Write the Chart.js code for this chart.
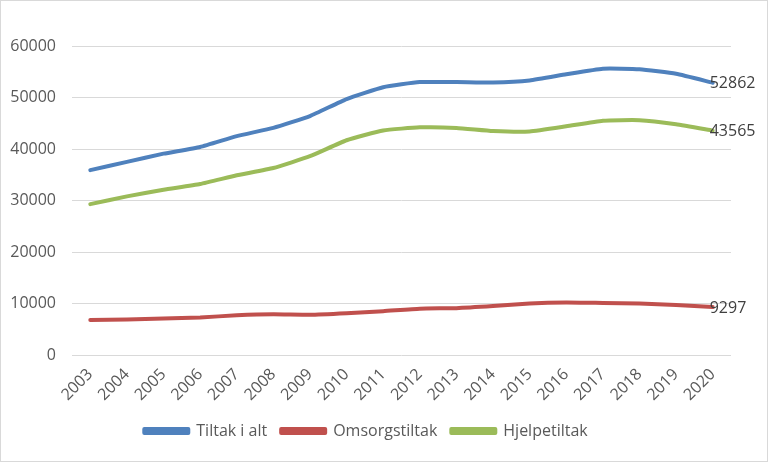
<!DOCTYPE html>
<html>
<head>
<meta charset="utf-8">
<script src="https://cdn.jsdelivr.net/npm/chart.js@4/dist/chart.umd.min.js"></script>
<style>
  html, body { margin: 0; padding: 0; background: #fff; }
  #wrap { width: 766px; height: 460px; border: 1px solid #d9d9d9; }
</style>
</head>
<body>
<div id="wrap"><canvas id="chart" width="766" height="460"></canvas></div>
<script>
const years = ['2003','2004','2005','2006','2007','2008','2009','2010','2011','2012','2013','2014','2015','2016','2017','2018','2019','2020'];
const tiltakIAlt = [35900, 37500, 39100, 40400, 42500, 44100, 46400, 49700, 52000, 53000, 53000, 52900, 53300, 54500, 55600, 55500, 54600, 52862];
const omsorgstiltak = [6800, 6900, 7100, 7300, 7700, 7900, 7800, 8100, 8500, 9000, 9100, 9500, 10000, 10200, 10100, 10000, 9700, 9297];
const hjelpetiltak = [29300, 30800, 32100, 33200, 34900, 36300, 38600, 41700, 43600, 44200, 44100, 43500, 43400, 44400, 45500, 45600, 44800, 43565];
const yTicks = [0, 10000, 20000, 30000, 40000, 50000, 60000];

const FONT = '"Open Sans", "Liberation Sans", sans-serif';
const TXT = '#595959';

// last value label at the end of each line
const endLabels = {
    id: 'endLabels',
    afterDatasetsDraw(chart) {
        const ctx = chart.ctx;
        ctx.save();
        ctx.font = '16px ' + FONT;
        ctx.fillStyle = '#404040';
        ctx.textAlign = 'left';
        ctx.textBaseline = 'middle';
        chart.data.datasets.forEach(function(ds, i) {
            const meta = chart.getDatasetMeta(i);
            const pt = meta.data[meta.data.length - 1];
            const val = ds.data[ds.data.length - 1];
            ctx.fillText(String(val), pt.x - 3, pt.y + 1);
        });
        ctx.restore();
    }
};

function mkSet(label, data, color) {
    return {
        label: label,
        data: data,
        borderColor: color,
        backgroundColor: color,
        borderWidth: 4,
        pointRadius: 0,
        tension: 0.15,
        borderCapStyle: 'round',
        borderJoinStyle: 'round'
    };
}

new Chart(document.getElementById('chart').getContext('2d'), {
    type: 'line',
    data: {
        labels: years,
        datasets: [
            mkSet('Tiltak i alt', tiltakIAlt, '#4F81BD'),
            mkSet('Omsorgstiltak', omsorgstiltak, '#C0504D'),
            mkSet('Hjelpetiltak', hjelpetiltak, '#9BBB59')
        ]
    },
    options: {
        responsive: false,
        animation: false,
        layout: { padding: { left: 0, right: 36, top: 45, bottom: 12 } },
        plugins: {
            legend: {
                position: 'bottom',
                labels: {
                    boxWidth: 44,
                    boxHeight: 4,
                    padding: 14,
                    color: TXT,
                    font: { family: FONT, size: 16 }
                }
            },
            tooltip: { enabled: false }
        },
        scales: {
            x: {
                offset: true,
                grid: { display: false },
                border: { display: false },
                ticks: {
                    color: TXT,
                    font: { family: FONT, size: 16 },
                    minRotation: 45,
                    maxRotation: 45,
                    padding: 2
                },
                afterFit(scale) { scale.height = 54; }
            },
            y: {
                min: 0,
                max: 60000,
                afterBuildTicks(scale) { scale.ticks = yTicks.map(function(v) { return { value: v }; }); },
                grid: { color: '#d9d9d9', drawTicks: false },
                border: { display: false },
                ticks: {
                    color: TXT,
                    font: { family: FONT, size: 16 },
                    padding: 16,
                    callback: function(v) { return String(v); }
                },
                afterFit(scale) { scale.width = 71; }
            }
        }
    },
    plugins: [endLabels]
});
</script>
</body>
</html>
